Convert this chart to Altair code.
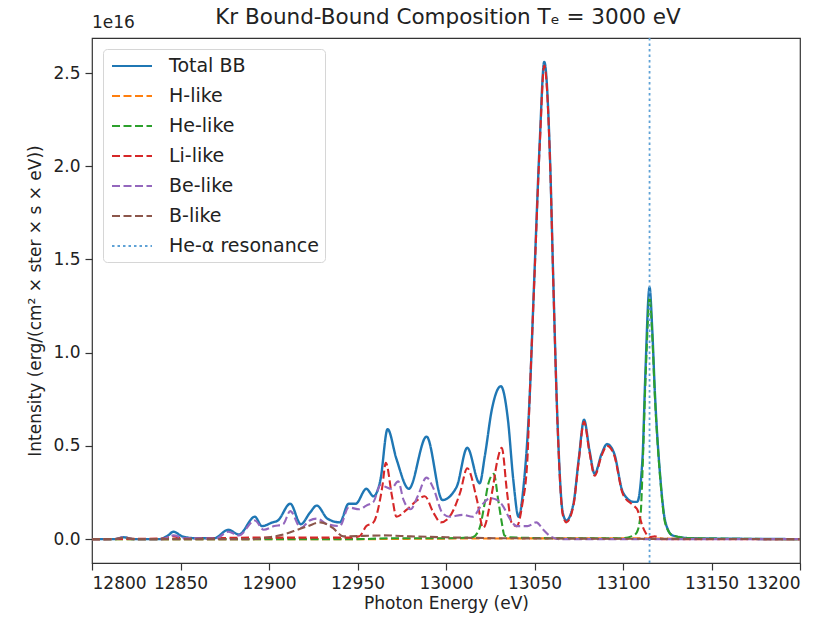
import altair as alt
import pandas as pd

SERIES = ["Total BB", "H-like", "He-like", "Li-like", "Be-like", "B-like", "He-α resonance"]
COLORS = ["#1f77b4", "#ff7f0e", "#2ca02c", "#d62728", "#9467bd", "#8c564b", "#5fa2d6"]
DASHES = [[1, 0], [8, 3.5], [8, 3.5], [8, 3.5], [8, 3.5], [8, 3.5], [2.5, 3]]

# Total BB
E_total = [12800, 12813, 12818, 12823, 12838, 12843, 12846, 12851, 12858, 12869, 12877, 12883,
           12892, 12896, 12902, 12905, 12912, 12918, 12923, 12927, 12933, 12940, 12945, 12949,
           12955, 12959, 12963, 12967, 12972, 12979, 12989, 12998, 13006, 13012, 13019, 13022,
           13026, 13031, 13035, 13038, 13041, 13044, 13047, 13050, 13053, 13055.5, 13059, 13060.5,
           13063, 13066, 13068, 13072, 13075, 13078, 13081, 13084, 13088, 13091, 13095, 13100,
           13106, 13108, 13111, 13112.5, 13115, 13116.5, 13118, 13121, 13124, 13128, 13138, 13200]
I_total = [0.0, 0.0, 0.01, 0.0, 0.0, 0.02, 0.04, 0.015, 0.005, 0.005, 0.05, 0.025,
           0.12, 0.07, 0.09, 0.10, 0.19, 0.08, 0.14, 0.18, 0.11, 0.09, 0.19, 0.19,
           0.27, 0.23, 0.32, 0.59, 0.43, 0.27, 0.55, 0.21, 0.28, 0.49, 0.30, 0.45,
           0.70, 0.82, 0.64, 0.32, 0.12, 0.30, 0.71, 1.43, 2.14, 2.56, 1.97, 1.43,
           0.63, 0.14, 0.10, 0.19, 0.43, 0.64, 0.48, 0.35, 0.46, 0.51, 0.46, 0.25,
           0.20, 0.20, 0.43, 0.85, 1.35, 1.13, 0.79, 0.34, 0.09, 0.02, 0.005, 0.0]

# H-like
E_h = [12800, 12950, 13000, 13060, 13110, 13130, 13200]
I_h = [0.0, 0.0, 0.003, 0.004, 0.004, 0.002, 0.0]

# He-like
E_he = [12800, 12950, 12970, 13000, 13015, 13019, 13022, 13024, 13027, 13029.5, 13031.5, 13033,
        13036, 13060, 13100, 13106, 13108, 13110, 13111, 13112.5, 13113.5, 13115, 13116.5, 13118,
        13121, 13124, 13128, 13138, 13200]
I_he = [0.0, 0.0, 0.005, 0.005, 0.01, 0.06, 0.2, 0.3, 0.35, 0.21, 0.09, 0.02,
        0.01, 0.005, 0.005, 0.02, 0.04, 0.14, 0.36, 0.8, 1.05, 1.30, 1.10, 0.77,
        0.33, 0.08, 0.02, 0.005, 0.0]

# Li-like
E_li = [12800, 12840, 12846, 12852, 12890, 12945, 12951, 12955, 12959, 12964, 12966, 12969.5,
        12972, 12978, 12984, 12988, 12993, 12997, 13002, 13008, 13012, 13017.5, 13021, 13026,
        13029, 13031.5, 13034.5, 13037, 13040, 13043, 13046, 13047, 13050, 13053, 13055.5, 13059,
        13060.5, 13063, 13066, 13068, 13072, 13075, 13078, 13081, 13084, 13088, 13091, 13095,
        13100, 13106, 13108, 13111, 13113, 13115, 13118, 13122, 13200]
I_li = [0.0, 0.003, 0.015, 0.003, 0.008, 0.008, 0.015, 0.07, 0.09, 0.28, 0.41, 0.23,
        0.12, 0.16, 0.21, 0.23, 0.14, 0.09, 0.12, 0.25, 0.38, 0.21, 0.06, 0.25,
        0.42, 0.49, 0.25, 0.09, 0.07, 0.18, 0.43, 0.69, 1.41, 2.12, 2.54, 1.96,
        1.42, 0.62, 0.13, 0.09, 0.18, 0.42, 0.63, 0.47, 0.34, 0.45, 0.50, 0.45,
        0.24, 0.18, 0.16, 0.07, 0.03, 0.01, 0.015, 0.0, 0.0]

# Be-like
E_be = [12800, 12812, 12818, 12824, 12840, 12846, 12852, 12870, 12877, 12883, 12892, 12897,
        12903, 12908, 12912, 12918, 12923, 12927, 12933, 12940, 12945, 12951, 12955, 12959,
        12963, 12966, 12969, 12973, 12976, 12980, 12984, 12989, 12993, 12998, 13002, 13009.5,
        13015, 13020, 13025, 13029, 13032, 13036, 13040, 13046, 13051, 13055, 13059, 13064, 13200]
I_be = [0.0, 0.0, 0.01, 0.0, 0.0, 0.02, 0.005, 0.003, 0.04, 0.02, 0.10, 0.05,
        0.07, 0.08, 0.15, 0.06, 0.10, 0.11, 0.08, 0.07, 0.17, 0.16, 0.18, 0.20,
        0.29, 0.28, 0.27, 0.31, 0.21, 0.16, 0.23, 0.33, 0.27, 0.14, 0.12, 0.13,
        0.12, 0.18, 0.22, 0.21, 0.18, 0.11, 0.07, 0.07, 0.09, 0.05, 0.015, 0.0, 0.0]

# B-like
E_b = [12800, 12812, 12818, 12824, 12890, 12900, 12910, 12916, 12922, 12929, 12936, 12942,
       12965, 12980, 13000, 13030, 13200]
I_b = [0.0, 0.0, 0.008, 0.0, 0.0, 0.01, 0.03, 0.05, 0.07, 0.09, 0.06, 0.015,
       0.02, 0.015, 0.01, 0.005, 0.0]

HE_ALPHA = 13115

X_TICKS = [12800, 12850, 12900, 12950, 13000, 13050, 13100, 13150, 13200]
Y_TICKS = [0.0, 0.5, 1.0, 1.5, 2.0, 2.5]

TITLE = "Kr Bound-Bound Composition Tₑ = 3000 eV"
OFFSET_LABEL = "1e16"
FONT = "DejaVu Sans"


def frame(name, e, i):
    return pd.DataFrame({"energy": e, "intensity": i, "series": name})


total_df = frame("Total BB", E_total, I_total)
dashed_dfs = [
    frame("H-like", E_h, I_h),
    frame("He-like", E_he, I_he),
    frame("Li-like", E_li, I_li),
    frame("Be-like", E_be, I_be),
    frame("B-like", E_b, I_b),
]
rule_df = pd.DataFrame({"energy": [HE_ALPHA], "series": ["He-α resonance"]})

legend = alt.Legend(
    title=None, orient="top-left", offset=11, symbolType="M-2,0H2", symbolSize=400,
    symbolStrokeWidth=2, labelFontSize=19, labelFont=FONT, labelColor="#222",
    rowPadding=9, padding=6, fillColor="white", strokeColor="#d6d6d6", cornerRadius=4,
    labelOffset=26, symbolLimit=0, symbolOffset=12,
)

color = alt.Color("series:N", scale=alt.Scale(domain=SERIES, range=COLORS), legend=legend)
dash = alt.StrokeDash("series:N", scale=alt.Scale(domain=SERIES, range=DASHES), legend=legend)

xenc = alt.X("energy:Q", scale=alt.Scale(domain=[12800, 13200], nice=False, zero=False),
             axis=alt.Axis(values=X_TICKS, format="d", title="Photon Energy (eV)"))
yenc = alt.Y("intensity:Q", scale=alt.Scale(domain=[-0.128, 2.688], nice=False, zero=False),
             axis=alt.Axis(values=Y_TICKS, format=".1f",
                           title="Intensity (erg/(cm² × ster × s × eV))"))

total_layer = alt.Chart(total_df).mark_line(strokeWidth=2.4, interpolate="monotone").encode(
    x=xenc, y=yenc, color=color, strokeDash=dash)

dashed_layers = [
    alt.Chart(df).mark_line(strokeWidth=2.1, interpolate="monotone").encode(
        x=xenc, y=yenc, color=color, strokeDash=dash)
    for df in dashed_dfs
]

rule_layer = alt.Chart(rule_df).mark_rule(strokeWidth=1.8).encode(
    x="energy:Q", color=color, strokeDash=dash)

offset_text = alt.Chart(pd.DataFrame({"t": [OFFSET_LABEL]})).mark_text(
    align="left", baseline="bottom", fontSize=17, font=FONT, color="#222"
).encode(text="t:N", x=alt.value(0), y=alt.value(-6))

title_text = alt.Chart(pd.DataFrame({"t": [TITLE]})).mark_text(
    align="center", baseline="alphabetic", fontSize=21.5, font=FONT, color="#222"
).encode(text="t:N", x=alt.value(356), y=alt.value(-14))

chart = alt.layer(total_layer, *dashed_layers, rule_layer, offset_text, title_text).properties(
    width=708, height=525,
    autosize=alt.AutoSizeParams(type="none"),
    padding={"left": 84, "top": 30, "right": 17, "bottom": 53},
).configure_view(stroke="#333", strokeWidth=1.2).configure_axis(
    grid=False, domain=False, tickColor="#333", tickSize=7, tickWidth=1.2,
    labelFont=FONT, labelFontSize=17, labelColor="#222", labelPadding=5,
    titleFont=FONT, titleFontSize=17, titleFontWeight="normal", titleColor="#222",
).configure_axisX(titlePadding=4).configure_axisY(titlePadding=8)

chart.save("out.html", embed_options={"renderer": "svg", "actions": False})
